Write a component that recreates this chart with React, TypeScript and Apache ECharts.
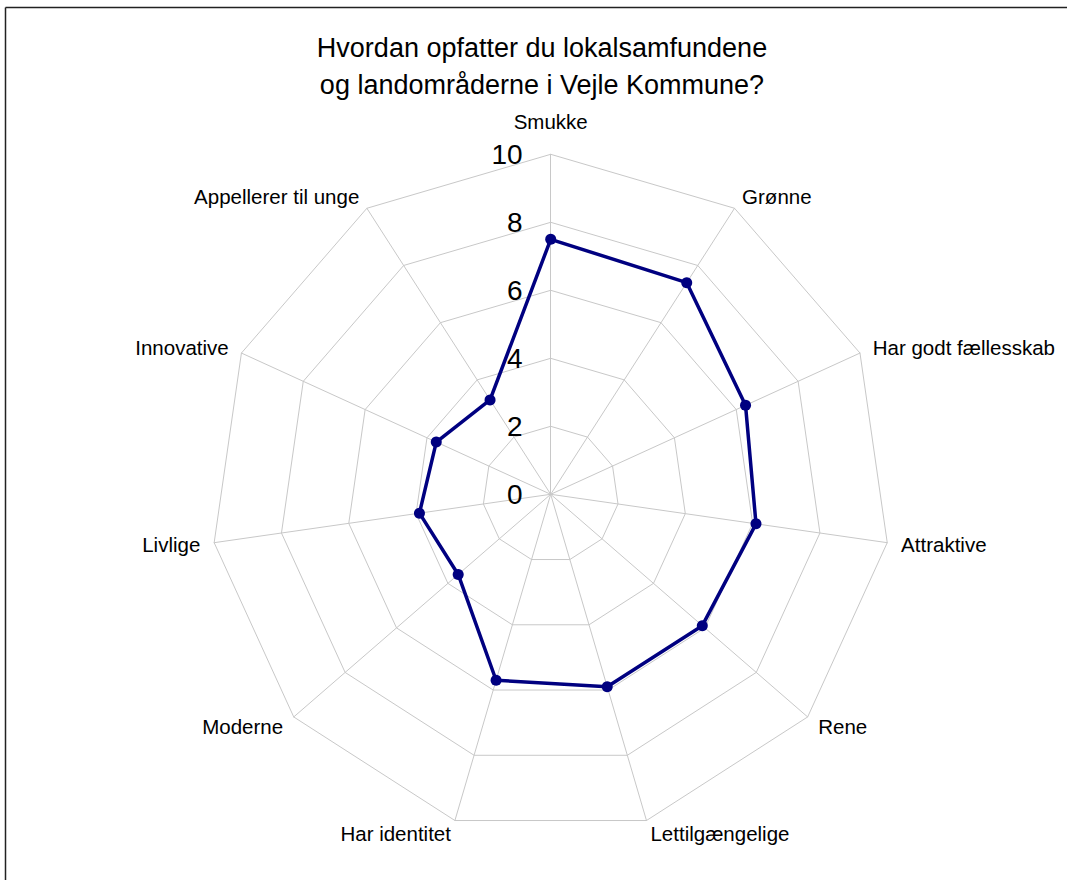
import React, { useEffect, useRef } from "react";
import * as echarts from "echarts";

const titleLines = ["Hvordan opfatter du lokalsamfundene", "og landområderne i Vejle Kommune?"];
// Categories in clockwise order starting at the top
const categories = [
  "Smukke",
  "Grønne",
  "Har godt fællesskab",
  "Attraktive",
  "Rene",
  "Lettilgængelige",
  "Har identitet",
  "Moderne",
  "Livlige",
  "Innovative",
  "Appellerer til unge",
];
const values = [7.5, 7.4, 6.3, 6.1, 5.9, 5.9, 5.7, 3.6, 3.9, 3.7, 3.3];
const axisMin = 0;
const axisMax = 10;
const splitCount = 5;

const FONT = "'Liberation Sans', Arial, Helvetica, sans-serif";

export default function App() {
  const ref = useRef<HTMLDivElement>(null);
  useEffect(() => {
    if (!ref.current) return;
    const chart = echarts.init(ref.current, undefined, { renderer: "svg" });
    // ECharts radar runs counter-clockwise; reorder so the picture runs clockwise
    const order = [0, ...categories.map((_, i) => i).slice(1).reverse()];
    const indicator = order.map((i, k) => {
      const ind: any = { name: categories[i], min: axisMin, max: axisMax };
      if (k === 0) {
        ind.nameGap = 22;
        ind.axisLabel = {
          show: true,
          fontSize: 28,
          color: "#000",
          fontFamily: FONT,
          margin: 28,
        };
      }
      return ind;
    });
    const data = order.map((i) => values[i]);
    chart.setOption({
      animation: false,
      backgroundColor: "#fff",
      textStyle: { fontFamily: FONT },
      title: {
        text: titleLines.join("\n"),
        left: 542,
        top: 29,
        padding: 0,
        textAlign: "center",
        textStyle: {
          fontSize: 27,
          fontWeight: "normal",
          color: "#000",
          lineHeight: 37,
          fontFamily: FONT,
        },
      },
      graphic: [
        {
          type: "line",
          shape: { x1: 5.5, y1: 7.5, x2: 5.5, y2: 900 },
          style: { stroke: "#222", lineWidth: 1.5 },
          silent: true,
        },
        {
          type: "line",
          shape: { x1: 5.5, y1: 7.5, x2: 1100, y2: 7.5 },
          style: { stroke: "#222", lineWidth: 1.5 },
          silent: true,
        },
      ],
      radar: {
        center: [550.7, 494.3],
        radius: 340,
        startAngle: 90,
        splitNumber: splitCount,
        shape: "polygon",
        nameGap: 14,
        axisName: { color: "#000", fontSize: 20.5, fontFamily: FONT },
        axisLine: { lineStyle: { color: "#c8c8c8", width: 1 } },
        splitLine: { lineStyle: { color: "#c8c8c8", width: 1 } },
        splitArea: { show: false },
        axisTick: { show: false },
        axisLabel: { show: false },
        indicator,
      },
      series: [
        {
          type: "radar",
          symbol: "circle",
          symbolSize: 11,
          lineStyle: { color: "#000080", width: 3.5 },
          itemStyle: { color: "#000080" },
          data: [{ value: data, name: "Gennemsnit" }],
        },
      ],
    });
    return () => chart.dispose();
  }, []);
  return (
    <div
      ref={ref}
      style={{ position: "absolute", left: 0, top: 0, width: 1067, height: 880, background: "#fff" }}
    />
  );
}
